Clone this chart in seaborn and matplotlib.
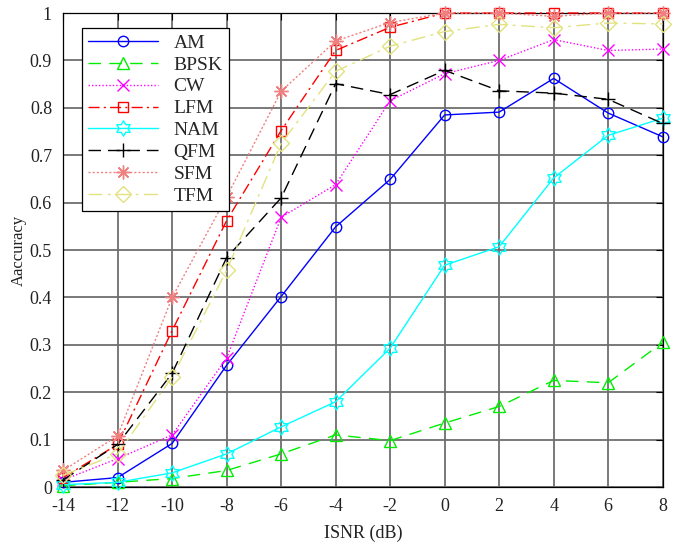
import numpy as np
import pandas as pd
import matplotlib
matplotlib.use("Agg")
import matplotlib.pyplot as plt
from matplotlib.path import Path
import seaborn as sns

isnr = [-14, -12, -10, -8, -6, -4, -2, 0, 2, 4, 6, 8]

am   = [0.010, 0.020, 0.092, 0.257, 0.402, 0.549, 0.649, 0.785, 0.791, 0.862, 0.789, 0.739]
bpsk = [0.003, 0.010, 0.018, 0.035, 0.070, 0.110, 0.098, 0.135, 0.170, 0.225, 0.220, 0.305]
cw   = [0.015, 0.060, 0.110, 0.272, 0.569, 0.638, 0.815, 0.872, 0.900, 0.944, 0.921, 0.924]
lfm  = [0.020, 0.090, 0.330, 0.562, 0.752, 0.921, 0.970, 1.000, 1.000, 1.000, 1.000, 1.000]
nam  = [0.005, 0.010, 0.030, 0.070, 0.127, 0.180, 0.293, 0.468, 0.507, 0.652, 0.742, 0.778]
qfm  = [0.015, 0.090, 0.240, 0.484, 0.610, 0.851, 0.828, 0.879, 0.836, 0.831, 0.818, 0.767]
sfm  = [0.035, 0.108, 0.400, 0.612, 0.835, 0.941, 0.980, 1.000, 1.000, 0.993, 1.000, 1.000]
tfm  = [0.025, 0.070, 0.232, 0.457, 0.725, 0.877, 0.930, 0.961, 0.976, 0.969, 0.979, 0.977]

names = ["AM", "BPSK", "CW", "LFM", "NAM", "QFM", "SFM", "TFM"]
series = [am, bpsk, cw, lfm, nam, qfm, sfm, tfm]

yticks = [0, 0.1, 0.2, 0.3, 0.4, 0.5, 0.6, 0.7, 0.8, 0.9, 1]
ytick_labels = ["0", "0.1", "0.2", "0.3", "0.4", "0.5", "0.6", "0.7", "0.8", "0.9", "1"]

# six-pointed star (two overlaid triangles) drawn as an outline path
def hexagram():
    verts = []
    for k in range(12):
        ang = np.pi / 2 + k * np.pi / 6
        r = 1.0 if k % 2 == 0 else 0.58
        verts.append((r * np.cos(ang), r * np.sin(ang)))
    verts.append(verts[0])
    codes = [Path.MOVETO] + [Path.LINETO] * 11 + [Path.CLOSEPOLY]
    return Path(verts, codes)

styles = {
    "AM":   dict(color="#0000ff", linestyle="-",  marker="o", ms=7.5),
    "BPSK": dict(color="#00ee00", linestyle=(0, (9, 6)), marker="^", ms=8.5),
    "CW":   dict(color="#ff00ff", linestyle=(0, (1, 1.5)), marker="x", ms=8),
    "LFM":  dict(color="#ff0000", linestyle=(0, (8, 3, 1.5, 3)), marker="s", ms=7),
    "NAM":  dict(color="#00ffff", linestyle="-",  marker=hexagram(), ms=11),
    "QFM":  dict(color="#000000", linestyle=(0, (9, 5)), marker="+", ms=10),
    "SFM":  dict(color="#f08080", linestyle=(0, (1.5, 1.5)), marker=(8, 2, 0), ms=10),
    "TFM":  dict(color="#e2e27e", linestyle=(0, (10, 4, 2, 4)), marker="D", ms=8),
}

sns.set_theme(style="white")
plt.rcParams["font.family"] = ["Liberation Serif", "DejaVu Serif"]
plt.rcParams["mathtext.fontset"] = "stix"

fig = plt.figure(figsize=(6.86, 5.43), dpi=100)
ax = fig.add_axes([0.092, 0.103, 0.874, 0.873])

for name, vals in zip(names, series):
    st = styles[name]
    df = pd.DataFrame({"ISNR": isnr, "acc": vals})
    sns.lineplot(data=df, x="ISNR", y="acc", ax=ax, label=name,
                 color=st["color"], linestyle=st["linestyle"], marker=st["marker"],
                 markersize=st["ms"], markerfacecolor="none", markeredgecolor=st["color"],
                 markeredgewidth=1.0, linewidth=1.0, clip_on=False, zorder=3)

ax.set_xlim(-14, 8)
ax.set_ylim(0, 1)
ax.set_xticks(isnr)
ax.set_xticklabels([str(v) for v in isnr])
ax.set_yticks(yticks)
ax.set_yticklabels(ytick_labels)
ax.grid(True, color="#6e6e6e", linewidth=1.3)
ax.set_axisbelow(True)
for sp in ax.spines.values():
    sp.set_color("black")
    sp.set_linewidth(0.9)
ax.tick_params(direction="in", top=True, right=True, length=5, width=0.8,
               labelsize=13, colors="black", pad=8)
for lbl in ax.get_xticklabels() + ax.get_yticklabels():
    lbl.set_color("#222222")
ax.set_xlabel("ISNR (dB)", fontsize=13, labelpad=7, color="#222222")
ax.set_ylabel("Aaccuracy", fontsize=12, labelpad=2, color="#222222")

leg = ax.legend(loc="upper left", bbox_to_anchor=(0.032, 0.968), fontsize=14,
                frameon=True, fancybox=False, handlelength=3.6, labelspacing=0.22,
                borderpad=0.3, handletextpad=0.8, borderaxespad=0)
leg.get_frame().set_edgecolor("black")
leg.get_frame().set_linewidth(0.9)
leg.get_frame().set_alpha(1)

fig.savefig("out.png", dpi=100)
